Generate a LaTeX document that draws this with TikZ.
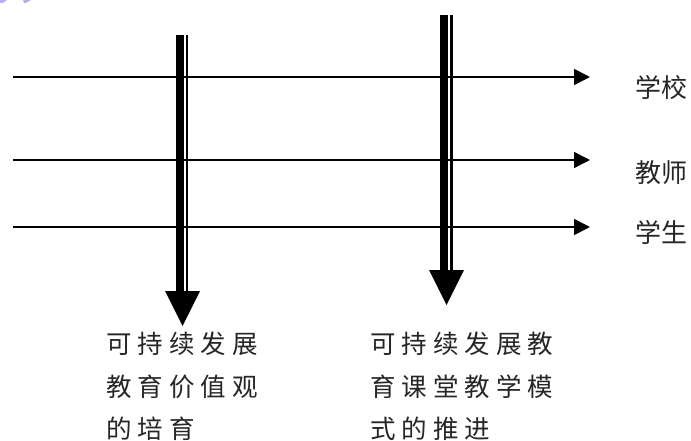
\documentclass[tikz,border=0pt]{standalone}
\usepackage{fontspec}
\newfontfamily\cjk{Noto Sans CJK SC}
\newfontfamily\cjkw[LetterSpace=23.5]{Noto Sans CJK SC}
\usetikzlibrary{arrows.meta}
\definecolor{smudge}{RGB}{185,175,228}
\tikzset{
  hline/.style={line width=1.6pt,-{Triangle[length=16pt,width=16pt]}},
  thickbar/.style={line width=7.7pt,line cap=butt},
  thinbar/.style={line width=2.4pt,line cap=butt},
  headtip/.style={fill=black,draw=none},
  side/.style={font=\cjk\fontsize{26}{26}\selectfont,anchor=west,inner sep=0pt,text=black!85},
  block/.style={font=\cjkw\fontsize{25.5}{42.5}\selectfont,anchor=north west,align=left,inner sep=0pt,text=black!85}
}
\begin{document}
\begin{tikzpicture}[x=1pt,y=-1pt]
\useasboundingbox (0,0) rectangle (691,441);
\fill[white] (0,0) rectangle (691,441);
% faint mark in the corner
\fill[smudge] (0,0) -- (7,0) -- (3,3) -- (0,3) -- cycle;
\fill[smudge] (23,0) -- (31,0) -- (26,3) -- (24,3) -- cycle;
% horizontal arrows
\coordinate (l1) at (13,77);  \coordinate (r1) at (590,77);
\coordinate (l2) at (13,160); \coordinate (r2) at (590,160);
\coordinate (l3) at (13,227); \coordinate (r3) at (590,227);
\draw[hline] (l1) -- (r1);
\draw[hline] (l2) -- (r2);
\draw[hline] (l3) -- (r3);
% left vertical arrow
\coordinate (a1) at (180,35);  \coordinate (a2) at (180,292);
\coordinate (a3) at (187.2,35); \coordinate (a4) at (187.2,292);
\draw[thickbar] (a1) -- (a2);
\draw[thinbar] (a3) -- (a4);
\fill[headtip] (165,291) -- (200,291) -- (182.5,326) -- cycle;
% right vertical arrow
\coordinate (b1) at (444.2,15);  \coordinate (b2) at (444.2,271);
\coordinate (b3) at (451.5,15); \coordinate (b4) at (451.5,271);
\draw[thickbar] (b1) -- (b2);
\draw[thinbar] (b3) -- (b4);
\fill[headtip] (429,270) -- (464,270) -- (446.5,305) -- cycle;
% labels
\node[side] (t1) at (635,88) {学校};
\node[side] (t2) at (635,173) {教师};
\node[side] (t3) at (635,232) {学生};
\node[block] (c1) at (106,332) {可持续发展\\教育价值观\\的培育};
\node[block] (c2) at (370,332) {可持续发展教\\育课堂教学模\\式的推进};
\end{tikzpicture}
\end{document}
